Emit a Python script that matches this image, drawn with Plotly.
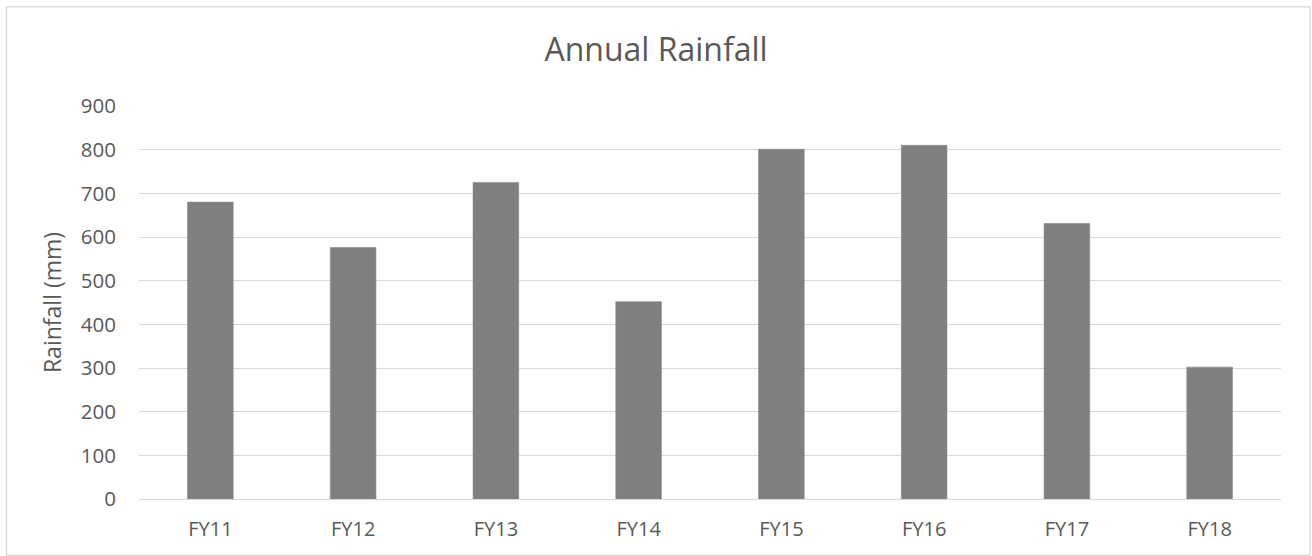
import plotly.graph_objects as go

# Annual rainfall per financial year
years = ["FY11", "FY12", "FY13", "FY14", "FY15", "FY16", "FY17", "FY18"]
rainfall_mm = [680, 576, 725, 452, 801, 810, 631, 302]
y_ticks = [0, 100, 200, 300, 400, 500, 600, 700, 800, 900]

W, H = 1312, 556
# plot area in pixels
PL, PR, PT, PB = 139, 1281, 106, 498.7

fig = go.Figure(
    go.Bar(
        x=years,
        y=rainfall_mm,
        marker=dict(color="#7f7f7f", line=dict(color="#8c8c8c", width=0.6)),
        hoverinfo="x+y",
    )
)


def px_to_paper_x(px):
    return (px - PL) / (PR - PL)


def px_to_paper_y(py):
    return (PB - py) / (PB - PT)


fig.update_layout(
    width=W,
    height=H,
    margin=dict(l=PL, r=W - PR, t=PT, b=H - PB),
    paper_bgcolor="white",
    plot_bgcolor="white",
    bargap=0.68,
    showlegend=False,
    font=dict(family="Open Sans, sans-serif", color="#595959"),
    title=dict(
        text="Annual Rainfall",
        x=0.5,
        xref="container",
        xanchor="center",
        y=1 - 50 / H,
        yref="container",
        yanchor="middle",
        font=dict(size=32, color="#595959"),
    ),
    xaxis=dict(
        showgrid=False,
        showline=True,
        linecolor="#d9d9d9",
        linewidth=1.3,
        ticks="",
        ticklabelstandoff=12,
        tickfont=dict(size=20, color="#595959"),
        fixedrange=True,
    ),
    yaxis=dict(
        range=[0, 900],
        tickvals=y_ticks,
        showgrid=True,
        gridcolor="#d9d9d9",
        gridwidth=1.3,
        zeroline=False,
        showline=False,
        ticks="",
        ticklabelstandoff=22,
        tickfont=dict(size=20.5, color="#595959"),
        title=dict(text="Rainfall (mm)", font=dict(size=23, color="#595959"), standoff=12),
        fixedrange=True,
    ),
    shapes=[
        dict(
            type="rect",
            xref="paper",
            yref="paper",
            x0=px_to_paper_x(6.5),
            x1=px_to_paper_x(1310),
            y0=px_to_paper_y(555),
            y1=px_to_paper_y(7),
            line=dict(color="#d9d9d9", width=1.3),
            fillcolor="rgba(0,0,0,0)",
            layer="below",
        )
    ],
)

fig.write_html("out.html")
